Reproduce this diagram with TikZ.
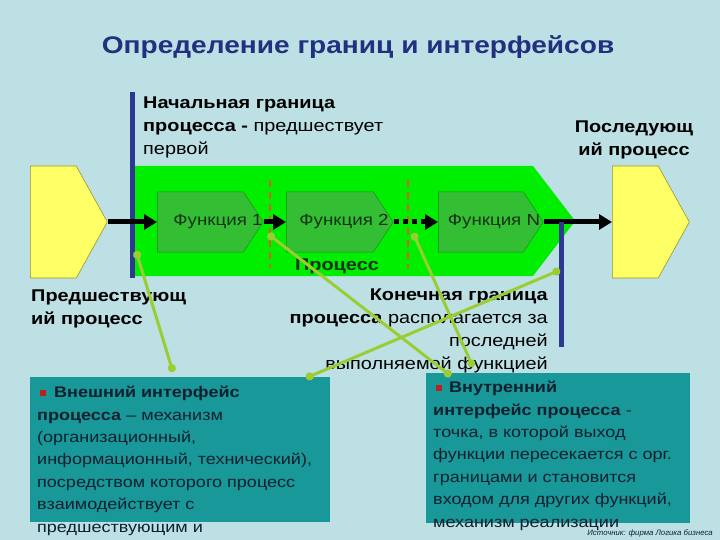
\documentclass[tikz,border=0pt]{standalone}
\usepackage{fontspec}
\setmainfont[FakeStretch=1.17]{Liberation Sans}
\newfontfamily\plainsans{Liberation Sans}
\usetikzlibrary{shapes.symbols,arrows.meta}
\definecolor{bg}{RGB}{188,224,228}
\definecolor{titleblue}{RGB}{35,48,128}
\definecolor{bound}{RGB}{43,57,144}
\definecolor{procgreen}{RGB}{0,238,0}
\definecolor{funcgreen}{RGB}{52,190,52}
\definecolor{funcedge}{RGB}{30,140,30}
\definecolor{yel}{RGB}{255,255,102}
\definecolor{yeledge}{RGB}{150,150,40}
\definecolor{reddash}{RGB}{215,95,40}
\definecolor{tealbox}{RGB}{24,152,152}
\definecolor{lnk}{RGB}{154,205,50}
\definecolor{boxtext}{RGB}{16,32,48}
\definecolor{bulletred}{RGB}{190,30,30}
\definecolor{functext}{RGB}{20,50,20}
\begin{document}
\begin{tikzpicture}[x=1pt,y=-1pt,
  body/.style={font=\fontsize{17}{23}\selectfont, inner sep=0pt, text=black},
  boxbody/.style={font=\fontsize{15.4}{22.4}\selectfont, inner sep=0pt, text=boxtext, align=left, anchor=north west},
  func/.style={signal, signal to=east, signal pointer angle=113, fill=funcgreen, draw=funcedge, line width=0.5pt,
    minimum width=106pt, minimum height=60pt, inner sep=0pt, anchor=west},
  functxt/.style={font=\fontsize{16}{19}\selectfont, text=functext, inner sep=0pt},
  yshape/.style={signal, signal to=east, signal pointer angle=122, fill=yel, draw=yeledge, line width=0.6pt,
    minimum width=77pt, minimum height=112pt, inner sep=0pt, anchor=west},
  flow/.style={line width=5pt, -{Triangle[length=13pt,width=15pt]}},
  divider/.style={reddash, line width=1.8pt, dash pattern=on 7pt off 5pt},
  boundary/.style={bound, line width=5pt},
  link/.style={lnk, line width=3pt, {Circle[length=8pt]}-{Circle[length=8pt]}},
  tealrect/.style={fill=tealbox, draw=none},
  bul/.style={fill=bulletred, draw=none, minimum size=6.5pt, inner sep=0pt}
]
\useasboundingbox[fill=bg] (0,0) rectangle (720,540);

% title
\node[font=\fontsize{24}{28}\selectfont\bfseries, text=titleblue] (title) at (358,47) {Определение границ и интерфейсов};

% start boundary text
\node[body, align=left, anchor=north west] (starttext) at (143,97)
  {\textbf{Начальная граница}\\\textbf{процесса -} предшествует\\первой};

% process shape
\node[signal, signal to=east, signal pointer angle=105, fill=procgreen, draw=none,
  minimum width=441pt, minimum height=110pt, inner sep=0pt, anchor=west] (proc) at (134,221) {};
\node[font=\fontsize{17}{20}\selectfont\bfseries, text=functext, inner sep=0pt] (proclabel) at (337,266) {Процесс};

% start boundary line
\coordinate (sbtop) at (132,92);
\coordinate (sbbot) at (132,278);
\draw[boundary] (sbtop) -- (sbbot);

% functions
\node[func] (f1) at (157,222) {};
\node[func, minimum width=107pt] (f2) at (286,222) {};
\node[func, minimum width=105pt] (fn) at (438,222) {};
\node[functxt] (f1t) at (218,222) {Функция 1};
\node[functxt] (f2t) at (344,222) {Функция 2};
\node[functxt] (fnt) at (494,222) {Функция N};

% dividers
\coordinate (d1a) at (270,180); \coordinate (d1b) at (270,268);
\coordinate (d2a) at (408,180); \coordinate (d2b) at (408,268);
\draw[divider] (d1a) -- (d1b);
\draw[divider] (d2a) -- (d2b);

% neighbouring processes
\node[yshape] (prev) at (30,222) {};
\node[yshape] (next) at (612,222) {};

% flows
\draw[flow] (prev.east) -- (f1.west);
\draw[flow] (f1.east) -- (f2.west);
\draw[line width=5pt, dash pattern=on 5pt off 4pt] (f2.east) -- ([xshift=-12pt]fn.west);
\draw[flow] ([xshift=-13pt]fn.west) -- (fn.west);
\draw[flow] (fn.east) -- (next.west);

% end boundary line
\coordinate (ebtop) at (561,222);
\coordinate (ebbot) at (561,347);
\draw[boundary] (ebtop) -- (ebbot);

% labels
\node[body, font=\fontsize{17}{23}\selectfont\bfseries, align=center, anchor=north] (nextlabel) at (634,121) {Последующ\\ий процесс};
\node[body, font=\fontsize{17}{23}\selectfont\bfseries, align=left, anchor=north west] (prevlabel) at (31,290) {Предшествующ\\ий процесс};
\node[body, align=right, anchor=north east] (endtext) at (548,289)
  {\textbf{Конечная граница}\\\textbf{процесса} располагается за\\последней\\выполняемой функцией};

% interface boxes
\coordinate (b1a) at (30,377); \coordinate (b1b) at (330,522);
\fill[tealrect] (b1a) rectangle (b1b);
\node[boxbody] (exttext) at (37,386)
  {\hspace*{17pt}\textbf{Внешний интерфейс}\\\textbf{процесса} – механизм\\(организационный,\\информационный, технический),\\посредством которого процесс\\взаимодействует с\\предшествующим и};
\node[bul] (bul1) at (43,393) {};

\coordinate (b2a) at (426,373); \coordinate (b2b) at (690,523);
\fill[tealrect] (b2a) rectangle (b2b);
\node[boxbody] (inttext) at (433,381)
  {\hspace*{16pt}\textbf{Внутренний}\\\textbf{интерфейс процесса} -\\точка, в которой выход\\функции пересекается с орг.\\границами и становится\\входом для других функций,\\механизм реализации};
\node[bul] (bul2) at (439,388) {};

% source
\node[font=\plainsans\fontsize{7.8}{9}\selectfont\itshape, text=boxtext, anchor=east, inner sep=0pt] (source) at (713,533) {Источник: фирма Логика бизнеса};

% connectors
\coordinate (c1a) at (136,251); \coordinate (c1b) at (173,372);
\coordinate (c2a) at (268,234); \coordinate (c2b) at (451,376);
\coordinate (c3a) at (413,233); \coordinate (c3b) at (473,367);
\coordinate (c4a) at (560,270); \coordinate (c4b) at (306,378);
\draw[link] (c1a) -- (c1b);
\draw[link] (c2a) -- (c2b);
\draw[link] (c3a) -- (c3b);
\draw[link] (c4a) -- (c4b);
\end{tikzpicture}
\end{document}
